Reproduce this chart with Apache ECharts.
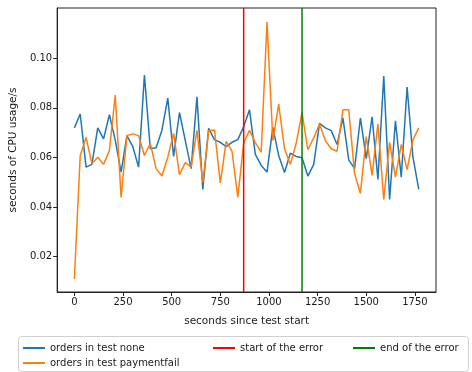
<!DOCTYPE html>
<html>
<head>
<meta charset="utf-8">
<script src="https://cdn.jsdelivr.net/npm/echarts@6/dist/echarts.min.js"></script>
<style>
  html, body { margin: 0; padding: 0; background: #fff; }
  #chart { width: 472px; height: 372px; }
</style>
</head>
<body>
<div id="chart"></div>
<script>
// sample times (s) and CPU usage per second
var seconds = []
for (var s = 0; s <= 1770; s += 30) seconds.push(s)

var cpuNone = [
  0.0719, 0.0775, 0.0561, 0.0572, 0.0719, 0.0675, 0.0772, 0.0670, 0.0541, 0.0688,
  0.0644, 0.0561, 0.0932, 0.0635, 0.0639, 0.0710, 0.0839, 0.0604, 0.0781, 0.0668,
  0.0555, 0.0844, 0.0471, 0.0717, 0.0671, 0.0661, 0.0644, 0.0661, 0.0672, 0.0724,
  0.0792, 0.0612, 0.0568, 0.0541, 0.0721, 0.0608, 0.0539, 0.0617, 0.0604, 0.0599,
  0.0525, 0.0572, 0.0737, 0.0719, 0.0708, 0.0652, 0.0759, 0.0590, 0.0555, 0.0759,
  0.0595, 0.0764, 0.0511, 0.0928, 0.0431, 0.0748, 0.0521, 0.0884, 0.0601, 0.0471
]
var cpuPaymentfail = [
  0.0111, 0.0608, 0.0681, 0.0575, 0.0601, 0.0572, 0.0628, 0.0851, 0.0439, 0.0688,
  0.0695, 0.0688, 0.0608, 0.0657, 0.0555, 0.0525, 0.0601, 0.0697, 0.0531, 0.0579,
  0.0561, 0.0709, 0.0499, 0.0708, 0.0711, 0.0497, 0.0665, 0.0625, 0.0440, 0.0658,
  0.0709, 0.0660, 0.0621, 0.1145, 0.0668, 0.0815, 0.0635, 0.0572, 0.0657, 0.0781,
  0.0631, 0.0679, 0.0735, 0.0668, 0.0635, 0.0625, 0.0792, 0.0792, 0.0535, 0.0455,
  0.0684, 0.0528, 0.0735, 0.0431, 0.0661, 0.0521, 0.0652, 0.0551, 0.0671, 0.0719
]
var errorStart = 870
var errorEnd = 1170

var xTicks = [0, 250, 500, 750, 1000, 1250, 1500, 1750]
var yTicks = [0.02, 0.04, 0.06, 0.08, 0.10]

var xMin = -88.5, xMax = 1858.5
var yMin = 0.0058, yMax = 0.1202

function pairs(xs, ys) {
  return xs.map(function (x, i) { return [x, ys[i]] })
}

var font = 'DejaVu Sans'
var txt = '#1a1a1a'
var spine = '#222'

// one legend block per entry, laid out like a 3-column matplotlib legend
function legendItem(name, left, top) {
  return {
    left: left, top: top,
    icon: 'rect', itemWidth: 22, itemHeight: 2, itemGap: 8,
    textStyle: { fontSize: 10, color: txt, fontFamily: font },
    data: [name]
  }
}

var chart = echarts.init(document.getElementById('chart'))
chart.setOption({
  animation: false,
  textStyle: { fontFamily: font },
  grid: {
    left: 54, right: 36, top: 8, bottom: 80,
    show: true, borderColor: spine, borderWidth: 1
  },
  xAxis: {
    type: 'value',
    min: xMin, max: xMax,
    name: 'seconds since test start',
    nameLocation: 'middle',
    nameGap: 24,
    nameTextStyle: { fontSize: 10.5, color: txt, fontFamily: font },
    axisLine: { show: true, onZero: false, lineStyle: { color: spine, width: 1 } },
    splitLine: { show: false },
    axisTick: { show: true, length: 4, lineStyle: { color: spine, width: 1 }, customValues: xTicks },
    axisLabel: {
      fontSize: 10, color: txt, margin: 5, customValues: xTicks, fontFamily: font,
      formatter: function (v) { return String(v) }
    }
  },
  yAxis: {
    type: 'value',
    min: yMin, max: yMax,
    name: 'seconds of CPU usage/s',
    nameLocation: 'middle',
    nameGap: 38,
    nameTextStyle: { fontSize: 10.5, color: txt, fontFamily: font },
    axisLine: { show: true, onZero: false, lineStyle: { color: spine, width: 1 } },
    splitLine: { show: false },
    axisTick: { show: true, length: 4, lineStyle: { color: spine, width: 1 }, customValues: yTicks },
    axisLabel: {
      fontSize: 10, color: txt, margin: 5, customValues: yTicks, fontFamily: font,
      formatter: function (v) { return v.toFixed(2) }
    }
  },
  legend: [
    legendItem('orders in test none', 18, 338),
    legendItem('orders in test paymentfail', 18, 353),
    legendItem('start of the error', 208, 338),
    legendItem('end of the error', 348, 338)
  ],
  graphic: [{
    type: 'rect',
    shape: { x: 18.5, y: 336.5, width: 450, height: 35, r: 3 },
    style: { fill: 'none', stroke: '#d0d0d0', lineWidth: 1 }
  }],
  series: [
    {
      name: 'orders in test none', type: 'line', showSymbol: false,
      color: '#1f77b4', lineStyle: { width: 1.5 },
      data: pairs(seconds, cpuNone)
    },
    {
      name: 'orders in test paymentfail', type: 'line', showSymbol: false,
      color: '#ff7f0e', lineStyle: { width: 1.5 },
      data: pairs(seconds, cpuPaymentfail)
    },
    {
      name: 'start of the error', type: 'line', showSymbol: false,
      color: '#ff0000', lineStyle: { width: 1.5 },
      data: [[errorStart, yMin], [errorStart, yMax]]
    },
    {
      name: 'end of the error', type: 'line', showSymbol: false,
      color: '#008000', lineStyle: { width: 1.5 },
      data: [[errorEnd, yMin], [errorEnd, yMax]]
    }
  ]
})
</script>
</body>
</html>
